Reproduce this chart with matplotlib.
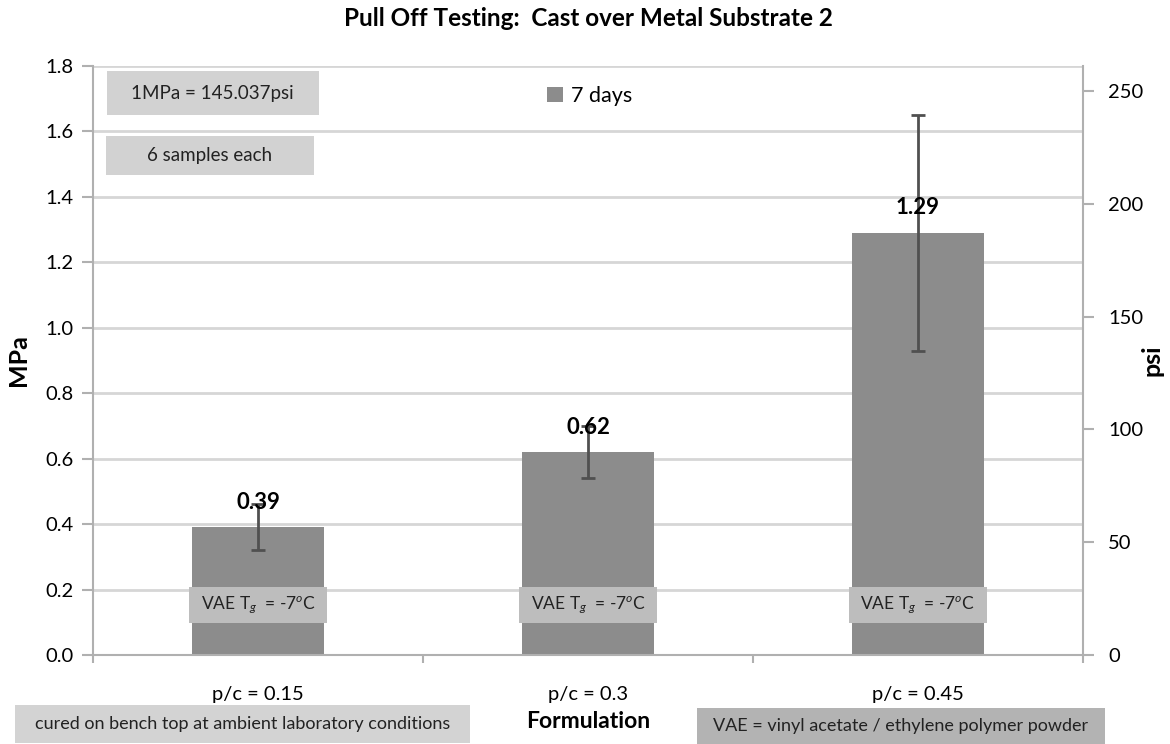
import matplotlib
matplotlib.use("Agg")
import matplotlib.pyplot as plt
from matplotlib.patches import Rectangle

plt.rcParams["font.family"] = ["Lato", "DejaVu Sans"]
plt.rcParams["mathtext.fontset"] = "custom"
plt.rcParams["mathtext.rm"] = "Lato"
plt.rcParams["mathtext.it"] = "Lato:italic"

categories = ["p/c = 0.15", "p/c = 0.3", "p/c = 0.45"]
mpa = [0.39, 0.62, 1.29]
err = [0.07, 0.08, 0.36]
series_name = "7 days"
psi_per_mpa = 145.037

fig = plt.figure(figsize=(11.7, 7.44), dpi=100)
ax = fig.add_axes([0.0795, 0.1196, 0.8461, 0.7917])

x = list(range(len(categories)))
bars = ax.bar(x, mpa, width=0.4, color="#8c8c8c", zorder=2, label=series_name)
ax.errorbar(x, mpa, yerr=err, fmt="none", ecolor="#505050", elinewidth=2,
            capsize=5, capthick=2, zorder=3)

for xi, v in zip(x, mpa):
    ax.annotate(f"{v:.2f}", (xi, v), xytext=(0, 18), textcoords="offset points",
                ha="center", va="center", fontsize=16, fontweight="bold", zorder=5)

# VAE Tg boxes on each bar
for xi in x:
    ax.add_patch(Rectangle((xi - 0.209, 0.098), 0.418, 0.11, facecolor="#bdbdbd",
                           edgecolor="none", zorder=4))
    ax.text(xi, 0.153, r"VAE T$_g$  = -7$^o$C", ha="center", va="center",
            fontsize=12.5, color="#222222", zorder=5)

ax.set_xlim(-0.5, 2.5)
ax.set_ylim(0, 1.8)
ax.set_yticks([i * 0.2 for i in range(10)])
ax.set_yticklabels([f"{i * 0.2:.1f}" for i in range(10)])
ax.set_xticks([-0.5, 0.5, 1.5, 2.5])
ax.set_xticklabels([])
ax.set_xticks(x, minor=True)
ax.set_xticklabels(categories, minor=True)
ax.tick_params(axis="x", which="major", length=6, width=1.5, color="#b0b0b0")
ax.tick_params(axis="x", which="minor", length=0, pad=22, labelsize=14.5)
ax.tick_params(axis="y", length=8, width=1.5, color="#b0b0b0", labelsize=14.5, pad=6)

ax.grid(axis="y", color="#d6d6d6", linewidth=2, zorder=0)
ax.set_axisbelow(True)
for s in ["top", "right"]:
    ax.spines[s].set_visible(False)
for s in ["left", "bottom"]:
    ax.spines[s].set_color("#b0b0b0")
    ax.spines[s].set_linewidth(1.5)

ax2 = ax.twinx()
ax2.set_ylim(0, 1.8 * psi_per_mpa)
ax2.set_yticks([0, 50, 100, 150, 200, 250])
ax2.tick_params(axis="y", length=8, width=1.5, color="#b0b0b0", labelsize=14.5, pad=10)
for s in ["top", "left", "bottom"]:
    ax2.spines[s].set_visible(False)
ax2.spines["right"].set_color("#b0b0b0")
ax2.spines["right"].set_linewidth(1.5)

ax.legend(loc="center", bbox_to_anchor=(0.502, 0.949), frameon=False,
          fontsize=15.5, handlelength=0.7, handleheight=0.7, handletextpad=0.4)

# info boxes in the plot area
ax.add_patch(Rectangle((0.0141, 0.9168), 0.2137, 0.0747, transform=ax.transAxes,
                       facecolor="#d2d2d2", edgecolor="none", zorder=4))
ax.text(0.1210, 0.954, "1MPa = 145.037psi", transform=ax.transAxes, ha="center",
        va="center", fontsize=13.5, color="#222222", zorder=5)
ax.add_patch(Rectangle((0.0131, 0.815), 0.2101, 0.066, transform=ax.transAxes,
                       facecolor="#d2d2d2", edgecolor="none", zorder=4))
ax.text(0.1182, 0.848, "6 samples each", transform=ax.transAxes, ha="center",
        va="center", fontsize=13.5, color="#222222", zorder=5)

# bottom notes
fig.patches.append(Rectangle((0.0128, 0.0013), 0.3889, 0.0511, transform=fig.transFigure,
                             facecolor="#d3d3d3", edgecolor="none"))
fig.text(0.2072, 0.027, "cured on bench top at ambient laboratory conditions",
         ha="center", va="center", fontsize=13, color="#222222")
fig.patches.append(Rectangle((0.5957, 0.0), 0.3487, 0.0484, transform=fig.transFigure,
                             facecolor="#b3b3b3", edgecolor="none"))
fig.text(0.7701, 0.0242, "VAE = vinyl acetate / ethylene polymer powder",
         ha="center", va="center", fontsize=13, color="#222222")

fig.text(0.5026, 0.9758, "Pull Off Testing:  Cast over Metal Substrate 2",
         ha="center", va="center", fontsize=17.5, fontweight="bold")
fig.text(0.5026, 0.0296, "Formulation", ha="center", va="center",
         fontsize=16.5, fontweight="bold")
fig.text(0.0154, 0.516, "MPa", ha="center", va="center", rotation=90,
         fontsize=18, fontweight="bold")
fig.text(0.9846, 0.516, "psi", ha="center", va="center", rotation=90,
         fontsize=18, fontweight="bold")

fig.savefig("out.png", dpi=100)
